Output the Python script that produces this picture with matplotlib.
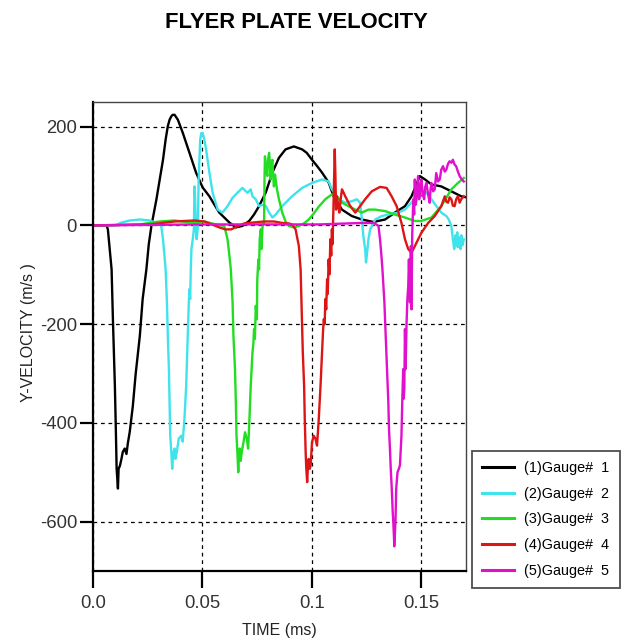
import matplotlib
matplotlib.use("Agg")
import matplotlib.pyplot as plt
from matplotlib import font_manager as fm

# ---------------- data (time in ms, velocity in m/s) ----------------
g1_t = [0, 0.0062, 0.0068, 0.0085, 0.0091, 0.0100, 0.0105, 0.0108, 0.0111, 0.0114, 0.0117,
        0.0123, 0.0130, 0.0136, 0.0145, 0.0153, 0.0159, 0.0168, 0.0182, 0.0195, 0.0214,
        0.0227, 0.0244, 0.0255, 0.0267, 0.0290, 0.0305, 0.0320, 0.0332, 0.0342, 0.0350,
        0.0358, 0.0364, 0.0373, 0.0388, 0.0410, 0.0441, 0.0471, 0.0501, 0.0532, 0.0555,
        0.0577, 0.0600, 0.0623, 0.0653, 0.0683, 0.0714, 0.0736, 0.0759, 0.0790, 0.0820,
        0.0850, 0.0880, 0.0918, 0.0956, 0.0977, 0.1001, 0.1023, 0.1047, 0.1077, 0.1100,
        0.1138, 0.1183, 0.1229, 0.1282, 0.1335, 0.1380, 0.1426, 0.1456, 0.1494, 0.1518,
        0.1547, 0.1592, 0.1638, 0.1683, 0.1705]
g1_v = [0, 0, -8, -89, -190, -325, -426, -493, -513, -533, -493,
        -487, -473, -459, -452, -463, -442, -418, -366, -301, -224,
        -149, -89, -38, -1, 53, 93, 133, 174, 201, 214,
        221, 224, 224, 214, 188, 147, 107, 77, 59, 42,
        26, 16, 6, -4, -1, 9, 22, 39, 67, 107,
        137, 154, 160, 154, 147, 133, 121, 107, 87, 59,
        32, 19, 12, 7, 12, 26, 39, 59, 100, 93,
        83, 79, 69, 59, 57]

g2_t = [0, 0.0100, 0.0132, 0.0168, 0.0214, 0.0259, 0.0295, 0.0312, 0.0320, 0.0332, 0.0338,
        0.0342, 0.0347, 0.0350, 0.0353, 0.0358, 0.0362, 0.0366, 0.0373, 0.0377, 0.0383,
        0.0392, 0.0403, 0.0410, 0.0418, 0.0426, 0.0433, 0.0438, 0.0441, 0.0444, 0.0447,
        0.0450, 0.0456, 0.0461, 0.0464, 0.0467, 0.0470, 0.0474, 0.0479, 0.0483, 0.0490,
        0.0495, 0.0501, 0.0509, 0.0517, 0.0532, 0.0547, 0.0570, 0.0592, 0.0615, 0.0638,
        0.0660, 0.0683, 0.0706, 0.0721, 0.0729, 0.0744, 0.0759, 0.0774, 0.0790, 0.0805,
        0.0820, 0.0835, 0.0865, 0.0910, 0.0956, 0.1001, 0.1047, 0.1077, 0.1092, 0.1123,
        0.1153, 0.1183, 0.1206, 0.1221, 0.1229, 0.1236, 0.1244, 0.1248, 0.1252, 0.1259,
        0.1267, 0.1290, 0.1320, 0.1350, 0.1395, 0.1426, 0.1455, 0.1471, 0.1501, 0.1523,
        0.1547, 0.1568, 0.1592, 0.1615, 0.1626, 0.1638, 0.1645, 0.1651, 0.1657, 0.1660,
        0.1665, 0.1668, 0.1674, 0.1680, 0.1684, 0.1689, 0.1695]
g2_v = [0, 0, 6, 10, 12, 10, 4, -1, -28, -89, -156,
        -224, -291, -358, -426, -459, -493, -463, -452, -473, -459,
        -432, -426, -438, -392, -325, -224, -156, -129, -149, -89,
        -48, -28, -8, 79, 53, -8, -28, -4, 93, 174,
        187, 187, 174, 154, 107, 66, 32, 26, 39, 56,
        66, 76, 66, 73, 59, 53, 39, 42, 39, 26,
        16, 22, 39, 59, 76, 86, 93, 89, 73, 53,
        46, 49, 53, 46, 12, -22, -48, -75, -59, -28,
        -8, 12, 19, 22, 26, 32, 46, 53, 63, 67,
        53, 40, 26, 19, 12, -1, -28, -48, -20, -42,
        -14, -44, -24, -48, -20, -40, -28]

g3_t = [0, 0.0214, 0.0305, 0.0373, 0.0441, 0.0509, 0.0562, 0.0600, 0.0615, 0.0623, 0.0630,
        0.0638, 0.0642, 0.0649, 0.0653, 0.0656, 0.0660, 0.0664, 0.0667, 0.0671, 0.0675,
        0.0680, 0.0688, 0.0695, 0.0703, 0.0709, 0.0714, 0.0721, 0.0729, 0.0733, 0.0736,
        0.0740, 0.0744, 0.0749, 0.0751, 0.0756, 0.0759, 0.0762, 0.0767, 0.0770, 0.0774,
        0.0777, 0.0782, 0.0784, 0.0786, 0.0791, 0.0797, 0.0800, 0.0805, 0.0809, 0.0812,
        0.0816, 0.0820, 0.0823, 0.0827, 0.0832, 0.0835, 0.0841, 0.0850, 0.0865, 0.0880,
        0.0895, 0.0918, 0.0941, 0.0964, 0.0986, 0.1009, 0.1032, 0.1062, 0.1092, 0.1115,
        0.1138, 0.1168, 0.1199, 0.1229, 0.1259, 0.1290, 0.1335, 0.1380, 0.1426, 0.1471,
        0.1501, 0.1547, 0.1592, 0.1638, 0.1668, 0.1695]
g3_v = [0, 2, 8, 10, 6, 8, 2, -1, -28, -59, -89,
        -156, -224, -291, -358, -426, -459, -500, -463, -452, -477,
        -459, -439, -419, -432, -452, -405, -325, -257, -240, -210,
        -230, -163, -190, -109, -69, -89, -28, -8, -48, -8,
        4, 5, 93, 140, 113, 100, 133, 147, 123, 93,
        123, 133, 103, 79, 103, 93, 73, 53, 26, 8,
        -1, -4, -1, 4, 12, 24, 38, 53, 63, 59,
        46, 39, 32, 26, 32, 32, 29, 22, 16, 9,
        9, 16, 39, 73, 86, 96]

g4_t = [0, 0.0259, 0.0373, 0.0464, 0.0509, 0.0555, 0.0577, 0.0605, 0.0632, 0.0659, 0.0691,
        0.0736, 0.0782, 0.0827, 0.0865, 0.0895, 0.0910, 0.0926, 0.0941, 0.0949, 0.0953,
        0.0959, 0.0965, 0.0968, 0.0972, 0.0975, 0.0979, 0.0982, 0.0986, 0.0991, 0.0995,
        0.1001, 0.1009, 0.1017, 0.1024, 0.1032, 0.1040, 0.1047, 0.1052, 0.1055, 0.1059,
        0.1062, 0.1066, 0.1070, 0.1073, 0.1077, 0.1081, 0.1085, 0.1089, 0.1092, 0.1095,
        0.1100, 0.1105, 0.1108, 0.1111, 0.1115, 0.1120, 0.1126, 0.1132, 0.1138, 0.1145,
        0.1153, 0.1176, 0.1199, 0.1221, 0.1244, 0.1274, 0.1312, 0.1342, 0.1365, 0.1388,
        0.1410, 0.1426, 0.1441, 0.1456, 0.1471, 0.1501, 0.1532, 0.1562, 0.1592, 0.1608,
        0.1615, 0.1623, 0.1630, 0.1638, 0.1645, 0.1653, 0.1660, 0.1668, 0.1676, 0.1683,
        0.1695]
g4_v = [0, 2, 8, 10, 8, 0, -4, -8, -8, -2, 4,
        6, 8, 8, 5, 4, 2, -8, -42, -89, -156,
        -257, -325, -392, -459, -493, -520, -493, -473, -493, -486,
        -439, -426, -432, -446, -392, -325, -257, -210, -190, -200,
        -149, -170, -109, -139, -69, -99, -28, -61, -8, -38,
        53, 154, 103, 32, 59, 42, 26, 53, 73, 67,
        59, 39, 26, 39, 53, 69, 78, 76, 59, 39,
        5, -28, -48, -55, -42, -15, 5, 19, 39, 59,
        48, 46, 57, 53, 40, 39, 53, 59, 46, 53,
        59]

g5_t = [0, 0.0486, 0.0714, 0.1032, 0.1229, 0.1282, 0.1295, 0.1305, 0.1312, 0.1318, 0.1323,
        0.1332, 0.1338, 0.1344, 0.1350, 0.1353, 0.1358, 0.1361, 0.1365, 0.1370, 0.1373,
        0.1376, 0.1377, 0.1380, 0.1383, 0.1386, 0.1392, 0.1398, 0.1403, 0.1410, 0.1414,
        0.1418, 0.1420, 0.1423, 0.1426, 0.1429, 0.1433, 0.1437, 0.1441, 0.1444, 0.1449,
        0.1453, 0.1456, 0.1459, 0.1464, 0.1468, 0.1471, 0.1475, 0.1479, 0.1482, 0.1486,
        0.1491, 0.1494, 0.1498, 0.1501, 0.1507, 0.1514, 0.1518, 0.1524, 0.1532, 0.1539,
        0.1543, 0.1547, 0.1555, 0.1562, 0.1569, 0.1577, 0.1585, 0.1592, 0.1600, 0.1608,
        0.1615, 0.1623, 0.1630, 0.1638, 0.1645, 0.1653, 0.1660, 0.1668, 0.1676, 0.1686,
        0.1695]
g5_v = [0, 2, 2, 2, 5, 5, 2, -1, -28, -59, -89,
        -156, -224, -291, -358, -412, -459, -493, -527, -580, -604,
        -634, -650, -624, -594, -533, -500, -493, -486, -426, -351,
        -291, -351, -331, -210, -291, -203, -149, -123, -69, -156,
        -42, -170, -22, 53, 22, 93, 42, 53, 77, 100,
        53, 66, 83, 93, 63, 53, 77, 86, 63, 46,
        73, 86, 69, 73, 106, 89, 93, 113, 120, 109,
        113, 125, 130, 127, 133, 123, 120, 109, 100, 93,
        89]

series_labels = ["(1)Gauge#  1", "(2)Gauge#  2", "(3)Gauge#  3", "(4)Gauge#  4", "(5)Gauge#  5"]
series_colors = ["#000000", "#3fe3ec", "#22dd22", "#dd1515", "#e010cc"]
x_ticks = [0.0, 0.05, 0.1, 0.15]
x_ticklabels = ["0.0", "0.05", "0.1", "0.15"]
y_ticks = [-600, -400, -200, 0, 200]

# ---------------- fonts ----------------
names = {f.name for f in fm.fontManager.ttflist}
NARROW = "Liberation Sans Narrow" in names
BASE = "Liberation Sans"
if NARROW:
    lab_font, lab_size = "Liberation Sans Narrow", 13.5
    leg_font, leg_size = "Liberation Sans Narrow", 12.5
else:
    lab_font, lab_size = BASE, 11.5
    leg_font, leg_size = BASE, 10.4

plt.rcParams["font.family"] = [BASE, "DejaVu Sans"]
plt.rcParams["axes.unicode_minus"] = False

W, H = 628, 643
fig = plt.figure(figsize=(W / 100, H / 100), dpi=100)
ax = fig.add_axes([93 / W, 1 - 571 / H, (466 - 93) / W, (571 - 102) / H])

series = [(g1_t, g1_v), (g2_t, g2_v), (g3_t, g3_v), (g4_t, g4_v), (g5_t, g5_v)]
for (t, v), lab, col in zip(series, series_labels, series_colors):
    ax.plot(t, v, color=col, lw=1.7, label=lab)

ax.set_xlim(0, 0.1705)
ax.set_ylim(-700, 250)
ax.set_xticks(x_ticks)
ax.set_xticklabels(x_ticklabels)
ax.set_yticks(y_ticks)

ax.grid(True, color="black", linestyle=(0, (3, 3)), linewidth=0.9)
ax.set_axisbelow(True)

for s in ["left", "bottom"]:
    ax.spines[s].set_linewidth(1.6)
    ax.spines[s].set_color("black")
for s in ["top", "right"]:
    ax.spines[s].set_linewidth(1.0)
    ax.spines[s].set_color("#444444")

ax.tick_params(axis="y", direction="out", length=9.5, width=1.6, pad=2,
               labelsize=13.3, labelcolor="#333333")
ax.tick_params(axis="x", direction="out", length=12, width=1.6, pad=5,
               labelsize=13.3, labelcolor="#333333")
ax.tick_params(top=False, right=False)

ax.set_xlabel("TIME (ms)", fontsize=lab_size, family=lab_font, color="#222222")
ax.xaxis.set_label_coords(0.501, (571 - 623) / 469)
ax.set_ylabel("Y-VELOCITY (m/s )", fontsize=lab_size, family=lab_font, color="#222222")
ax.yaxis.set_label_coords((36 - 93) / 373, (571 - 333) / 469)

fig.text(296 / W, 1 - 23 / H, "FLYER PLATE VELOCITY", ha="center", va="center",
         fontsize=15.8, fontweight="bold", color="black")

leg = ax.legend(loc="lower left", bbox_to_anchor=(472 / W, 1 - 588 / H),
                bbox_transform=fig.transFigure, frameon=True, fancybox=False,
                prop={"family": leg_font, "size": leg_size},
                handlelength=2.2, handletextpad=0.7, labelspacing=0.8,
                borderpad=0.72, borderaxespad=0)
fr = leg.get_frame()
fr.set_edgecolor("#222222")
fr.set_linewidth(1.3)
for line in leg.get_lines():
    line.set_linewidth(2.2)

fig.savefig("out.png", dpi=100)
